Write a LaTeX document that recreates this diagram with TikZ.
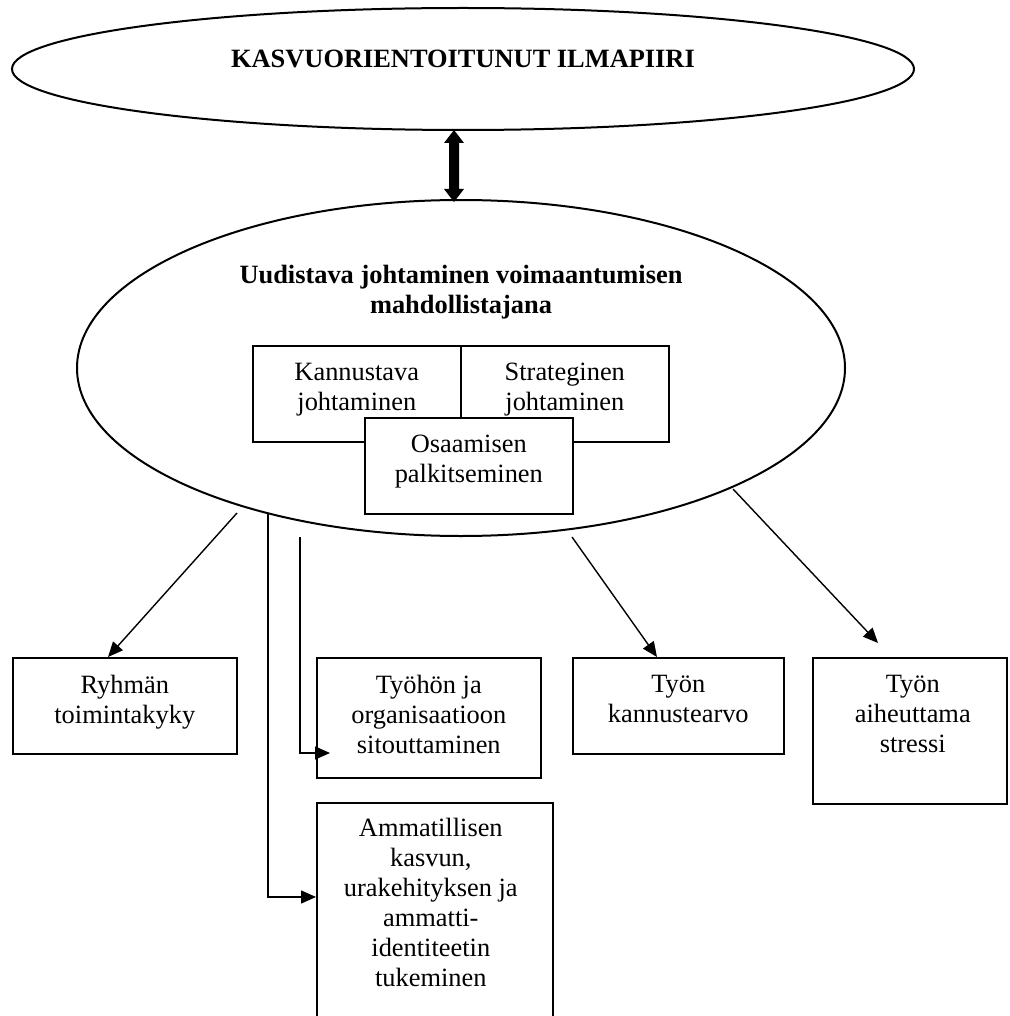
\documentclass[tikz,border=0pt]{standalone}
\usepackage{fontspec}
\setmainfont{Liberation Serif}
\usetikzlibrary{shapes.geometric,arrows.meta,calc}

\begin{document}
\begin{tikzpicture}[x=1pt,y=-1pt,
  txt/.style={font=\fontsize{26.4pt}{30pt}\selectfont, align=center, inner sep=0pt},
  boldtxt/.style={font=\fontsize{26.4pt}{30pt}\selectfont\bfseries, align=center, inner sep=0pt},
  oval/.style={ellipse, draw, line width=2pt, inner sep=0pt, fill=white},
  box/.style={draw, line width=1.6pt, fill=white, inner sep=0pt, anchor=north west},
  boxlbl/.style={label={[txt, anchor=north, yshift=-18pt]north:#1}},
  arr/.style={line width=1.4pt, -{Triangle[length=15pt,width=13pt]}},
  fatarrow/.style={fill=black},
]
\useasboundingbox (0,0) rectangle (1009,1016);
\clip (0,0) rectangle (1009,1016);

% climate ellipse
\node[oval, minimum width=902pt, minimum height=122pt] (climate) at (463,69) {};
\node[boldtxt] (climatetxt) at (463,59) {KASVUORIENTOITUNUT ILMAPIIRI};

% leadership ellipse
\node[oval, minimum width=768pt, minimum height=336pt] (lead) at (461,368) {};
\node[boldtxt] (leadtxt) at (461,292) {Uudistava johtaminen voimaantumisen\\mahdollistajana};

% leadership components
\node[box, minimum width=208pt, minimum height=96pt, boxlbl={Kannustava\\johtaminen}] (kann) at (252,345) {};
\node[box, minimum width=208pt, minimum height=96pt, boxlbl={Strateginen\\johtaminen}] (strat) at (460,345) {};
\node[box, minimum width=208pt, minimum height=96pt, boxlbl={Osaamisen\\palkitseminen}] (osaa) at (364,417) {};

% outcome boxes
\node[box, minimum width=224pt, minimum height=96pt, boxlbl={Ryhmän\\toimintakyky}] (ryhma) at (12,657) {};
\node[box, minimum width=224pt, minimum height=120pt, boxlbl={Työhön ja\\organisaatioon\\sitouttaminen}] (sitout) at (316,657) {};
\node[box, minimum width=211pt, minimum height=96pt, boxlbl={Työn\\kannustearvo}] (kannus) at (572,657) {};
\node[box, minimum width=194pt, minimum height=146pt, label={[txt, anchor=north, yshift=-18pt, xshift=3pt]north:Työn\\aiheuttama\\stressi}] (stressi) at (812,657) {};
\node[box, minimum width=236pt, minimum height=240pt, label={[txt, anchor=north, yshift=-16pt, xshift=-4pt]north:Ammatillisen\\kasvun,\\urakehityksen ja\\ammatti-\\identiteetin\\tukeminen}] (ammat) at (316,802) {};

% two-headed link between the ellipses
\coordinate (up) at (454,130);
\coordinate (dn) at (454,202);
\fill[fatarrow] (up) -- ($(up)+(10,13)$) -- ($(up)+(5,13)$) -- ($(dn)+(5,-13)$) -- ($(dn)+(10,-13)$)
  -- (dn) -- ($(dn)+(-10,-13)$) -- ($(dn)+(-5,-13)$) -- ($(up)+(-5,13)$) -- ($(up)+(-10,13)$) -- cycle;

% connector start points below the leadership ellipse
\coordinate (s1) at (237,513);
\coordinate (s2) at (268,513);
\coordinate (s3) at (300,537);
\coordinate (s4) at (572,537);
\coordinate (s5) at (733,489);
\coordinate (e2) at (316,897);
\coordinate (e3) at (330,753);
\coordinate (e4) at (878,643);

\draw[arr] (s1) -- (ryhma.north -| 108,0);
\draw[arr] (s2) |- (e2);
\draw[arr] (s3) |- (e3);
\draw[arr] (s4) -- (kannus.north -| 657,0);
\draw[arr] (s5) -- (e4);
\end{tikzpicture}
\end{document}
